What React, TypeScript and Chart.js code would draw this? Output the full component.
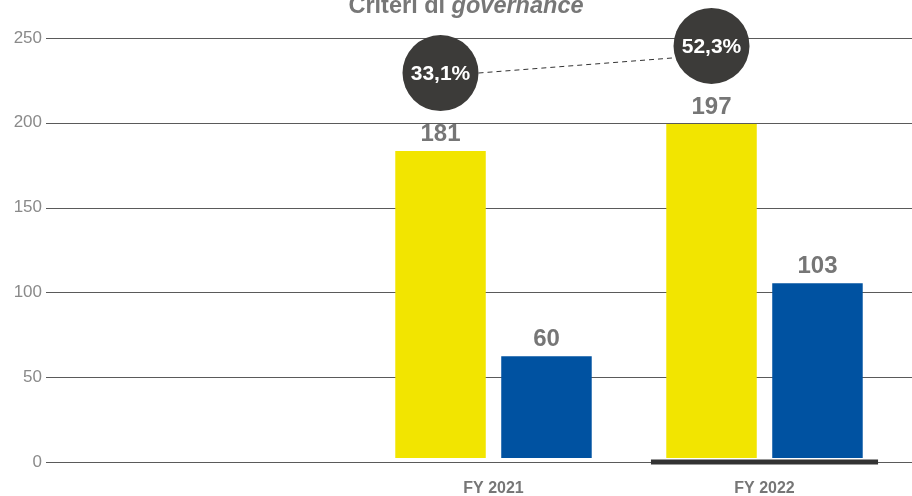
import { useEffect, useRef } from "react";
import { Chart, registerables } from "chart.js";

Chart.register(...registerables);

// ---- data ----
const categories: string[] = ["", "FY 2021", "FY 2022"];
const yellowValues: (number | null)[] = [null, 181, 197];
const blueValues: (number | null)[] = [null, 60, 103];
const percentLabels: string[] = ["", "33,1%", "52,3%"];
const yTickValues: number[] = [0, 50, 100, 150, 200, 250];
const titleRegular = "Criteri di ";
const titleItalic = "governance";
const highlightIndex = 2;

// ---- style ----
const FONT = '"Liberation Sans", Arial, Helvetica, sans-serif';
const YELLOW = "#f2e500";
const BLUE = "#0052a1";
const DARK = "#3c3b39";
const GREY_TEXT = "#767676";
const BAR_SHIFT = 4;
const CIRCLE_R = 38;
const CIRCLE_OFFSET = 82;
const GRID_LEFT = 46;
const W = 912;
const H = 496;

const decorPlugin = {
  id: "decor",
  beforeDatasetsDraw(chart: any) {
    const { ctx } = chart;
    const y = chart.scales.y;
    ctx.save();
    ctx.strokeStyle = "#5a5a5a";
    ctx.lineWidth = 1;
    y.ticks.forEach((t: any) => {
      const py = Math.round(y.getPixelForValue(t.value)) + 0.5;
      ctx.beginPath();
      ctx.moveTo(GRID_LEFT, py);
      ctx.lineTo(chart.width, py);
      ctx.stroke();
    });
    ctx.restore();
    ctx.save();
    ctx.translate(0, -BAR_SHIFT);
  },
  afterDatasetsDraw(chart: any) {
    const { ctx } = chart;
    ctx.restore();
    const x = chart.scales.x;
    const y = chart.scales.y;

    // highlight bar under the selected category
    const cx = x.getPixelForValue(highlightIndex);
    const catW = x.getPixelForValue(1) - x.getPixelForValue(0);
    const w = catW * 0.838;
    const y0 = y.getPixelForValue(0);
    ctx.save();
    ctx.fillStyle = "#333333";
    ctx.fillRect(cx - w / 2, y0 - 2.5, w, 5);
    ctx.restore();

    // value labels
    ctx.save();
    ctx.font = `bold 24px ${FONT}`;
    ctx.fillStyle = GREY_TEXT;
    ctx.textAlign = "center";
    ctx.textBaseline = "alphabetic";
    chart.data.datasets.forEach((ds: any, di: number) => {
      const meta = chart.getDatasetMeta(di);
      meta.data.forEach((el: any, i: number) => {
        const v = ds.data[i];
        if (v === null || v === undefined) return;
        ctx.fillText(String(v), el.x, el.y - BAR_SHIFT - 10);
      });
    });
    ctx.restore();

    // percentage circles
    const meta0 = chart.getDatasetMeta(0);
    const centers: { x: number; y: number; label: string }[] = [];
    meta0.data.forEach((el: any, i: number) => {
      if (!percentLabels[i]) return;
      centers.push({ x: el.x, y: el.y - CIRCLE_OFFSET, label: percentLabels[i] });
    });
    ctx.save();
    ctx.strokeStyle = "#333333";
    ctx.lineWidth = 1;
    ctx.setLineDash([5, 4]);
    for (let k = 0; k + 1 < centers.length; k++) {
      const a = centers[k];
      const b = centers[k + 1];
      ctx.beginPath();
      ctx.moveTo(a.x + CIRCLE_R, a.y);
      ctx.lineTo(b.x - CIRCLE_R, b.y + 12);
      ctx.stroke();
    }
    ctx.restore();
    ctx.save();
    centers.forEach((c) => {
      ctx.beginPath();
      ctx.arc(c.x, c.y, CIRCLE_R, 0, Math.PI * 2);
      ctx.fillStyle = DARK;
      ctx.fill();
      ctx.font = `bold 21px ${FONT}`;
      ctx.fillStyle = "#ffffff";
      ctx.textAlign = "center";
      ctx.textBaseline = "middle";
      ctx.fillText(c.label, c.x, c.y + 1);
    });
    ctx.restore();

    // title
    ctx.save();
    ctx.fillStyle = "#777777";
    ctx.textBaseline = "alphabetic";
    ctx.textAlign = "left";
    const f1 = `bold 23.5px ${FONT}`;
    const f2 = `italic bold 23.5px ${FONT}`;
    ctx.font = f1;
    const w1 = ctx.measureText(titleRegular).width;
    ctx.font = f2;
    const w2 = ctx.measureText(titleItalic).width;
    const tx = 466 - (w1 + w2) / 2;
    ctx.font = f1;
    ctx.fillText(titleRegular, tx, 13);
    ctx.font = f2;
    ctx.fillText(titleItalic, tx + w1, 13);
    ctx.restore();
  },
};

export default function App() {
  const canvasRef = useRef<HTMLCanvasElement | null>(null);

  useEffect(() => {
    if (!canvasRef.current) return;
    const chart = new Chart(canvasRef.current, {
      type: "bar",
      data: {
        labels: categories,
        datasets: [
          {
            label: "Serie 1",
            data: yellowValues,
            backgroundColor: YELLOW,
            borderWidth: 0,
            categoryPercentage: 0.782,
            barPercentage: 0.854,
          },
          {
            label: "Serie 2",
            data: blueValues,
            backgroundColor: BLUE,
            borderWidth: 0,
            categoryPercentage: 0.782,
            barPercentage: 0.854,
          },
        ],
      },
      options: {
        animation: false,
        responsive: false,
        maintainAspectRatio: false,
        devicePixelRatio: 1,
        layout: { padding: { top: 38, right: 12, left: 0, bottom: 0 } },
        plugins: {
          legend: { display: false },
          tooltip: { enabled: false },
          title: { display: false },
        },
        scales: {
          x: {
            grid: { display: false, drawTicks: false },
            border: { display: false },
            ticks: {
              color: GREY_TEXT,
              font: { family: FONT, size: 16, weight: "bold" },
              padding: 17,
              maxRotation: 0,
              autoSkip: false,
            },
            afterFit(s: any) {
              s.height = 34;
            },
          },
          y: {
            min: 0,
            max: 250,
            grid: { display: false, drawTicks: false },
            border: { display: false },
            ticks: {
              color: "#8a8a8a",
              font: { family: FONT, size: 17 },
              padding: 45,
            },
            afterBuildTicks(s: any) {
              s.ticks = yTickValues.map((v) => ({ value: v }));
            },
            afterFit(s: any) {
              s.width = 87;
              s.paddingTop = 0;
              s.paddingBottom = 0;
            },
          },
        },
      },
      plugins: [decorPlugin],
    } as any);
    return () => chart.destroy();
  }, []);

  return (
    <div style={{ position: "fixed", left: 0, top: 0, width: W, height: H, background: "#fff" }}>
      <canvas ref={canvasRef} width={W} height={H} style={{ display: "block", width: W, height: H }} />
    </div>
  );
}
